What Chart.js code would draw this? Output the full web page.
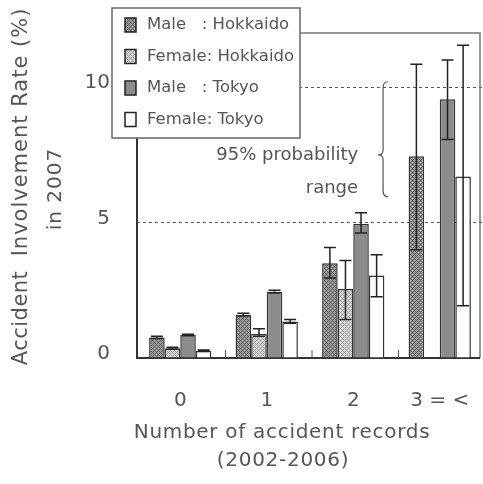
<!DOCTYPE html>
<html>
<head>
<meta charset="utf-8">
<script src="https://cdn.jsdelivr.net/npm/chart.js@4/dist/chart.umd.min.js"></script>
<style>
  html, body { margin: 0; padding: 0; background: #fff; }
  canvas { display: block; }
</style>
</head>
<body>
<canvas id="chart" width="483" height="484"></canvas>
<script>
// categories / series
const categories = ['0', '1', '2', '3 = <'];
const seriesLabels = ['Male   : Hokkaido', 'Female: Hokkaido', 'Male   : Tokyo', 'Female: Tokyo'];
const yTicks = [0, 5, 10];

// rates (%)
const maleHokkaido   = [0.76, 1.60, 3.50, 7.45];
const femaleHokkaido = [0.36, 0.90, 2.55, null];
const maleTokyo      = [0.85, 2.45, 4.95, 9.55];
const femaleTokyo    = [0.27, 1.35, 3.05, 6.70];

// 95% probability range (lower / upper)
const maleHokkaidoLow   = [0.72, 1.55, 2.95, 4.00];
const maleHokkaidoHigh  = [0.80, 1.65, 4.08, 10.85];
const femaleHokkaidoLow  = [0.32, 0.80, 1.42, null];
const femaleHokkaidoHigh = [0.40, 1.08, 3.60, null];
const maleTokyoLow   = [0.82, 2.40, 4.62, 8.07];
const maleTokyoHigh  = [0.88, 2.50, 5.36, 11.00];
const femaleTokyoLow  = [0.24, 1.28, 2.26, 1.93];
const femaleTokyoHigh = [0.30, 1.42, 3.81, 11.55];

const FONT = 'DejaVu Sans';
const TEXT = '#555';

// small hatch patterns like the original print
function hatch(base, line) {
    const c = document.createElement('canvas');
    c.width = 4; c.height = 4;
    const g = c.getContext('2d');
    g.fillStyle = base;
    g.fillRect(0, 0, 4, 4);
    g.fillStyle = line;
    for (let x = 0; x < 4; x++) {
        for (let y = 0; y < 4; y++) {
            if ((x + y) % 4 === 0 || (x - y + 4) % 4 === 0) g.fillRect(x, y, 1, 1);
        }
    }
    return g.createPattern(c, 'repeat');
}

const errorBars = {
    id: 'errorBars',
    afterDatasetsDraw(chart) {
        const ctx = chart.ctx;
        const y = chart.scales.y;
        ctx.save();
        ctx.strokeStyle = '#222';
        ctx.lineWidth = 1.5;
        chart.data.datasets.forEach((ds, di) => {
            const meta = chart.getDatasetMeta(di);
            meta.data.forEach((bar, i) => {
                if (ds.low[i] == null) return;
                const yl = y.getPixelForValue(ds.low[i]);
                const yh = y.getPixelForValue(ds.high[i]);
                const x = bar.x;
                ctx.beginPath();
                ctx.moveTo(x, yl); ctx.lineTo(x, yh);
                ctx.moveTo(x - 6, yl); ctx.lineTo(x + 6, yl);
                ctx.moveTo(x - 6, yh); ctx.lineTo(x + 6, yh);
                ctx.stroke();
            });
        });
        ctx.restore();
    }
};

const frame = {
    id: 'frame',
    beforeDatasetsDraw(chart) {
        const { ctx, chartArea: a, scales } = chart;
        const right = a.right - 3; // the printed frame stops a little short of the last slot
        ctx.save();
        ctx.strokeStyle = '#777';
        ctx.lineWidth = 1.5;
        ctx.beginPath();
        ctx.moveTo(a.left, a.top); ctx.lineTo(right, a.top); ctx.lineTo(right, a.bottom);
        ctx.stroke();
        ctx.strokeStyle = '#333';
        ctx.lineWidth = 2;
        ctx.beginPath();
        ctx.moveTo(a.left, a.top); ctx.lineTo(a.left, a.bottom); ctx.lineTo(right, a.bottom);
        ctx.stroke();
        // little inner ticks between categories
        ctx.lineWidth = 1;
        ctx.strokeStyle = '#555';
        ctx.beginPath();
        for (let i = 0; i < categories.length - 1; i++) {
            const xb = (scales.x.getPixelForValue(i) + scales.x.getPixelForValue(i + 1)) / 2 + 2;
            ctx.moveTo(xb, a.bottom); ctx.lineTo(xb, a.bottom - 8);
        }
        ctx.stroke();
        ctx.restore();
    }
};

const decorations = {
    id: 'decorations',
    afterDraw(chart) {
        const { ctx, scales } = chart;
        ctx.save();
        ctx.fillStyle = TEXT;
        ctx.textBaseline = 'middle';

        // axis titles
        ctx.font = '20px "' + FONT + '"';
        ctx.textAlign = 'center';
        ctx.letterSpacing = '0.7px';
        ctx.fillText('Number of accident records', 282, 433);
        ctx.fillText('(2002-2006)', 283, 461);
        ctx.save();
        ctx.translate(22, 0);
        ctx.rotate(-Math.PI / 2);
        ctx.font = '21px "' + FONT + '"';
        ctx.letterSpacing = '0.5px';
        ctx.fillText('Accident', -318, 0);
        ctx.letterSpacing = '1px';
        ctx.fillText('Involvement Rate (%)', -132, 0);
        ctx.restore();
        ctx.save();
        ctx.translate(56, 189);
        ctx.rotate(-Math.PI / 2);
        ctx.letterSpacing = '1px';
        ctx.fillText('in 2007', 0, 0);
        ctx.restore();
        ctx.letterSpacing = '0px';

        // brace + note
        const step = scales.x.getPixelForValue(3) - scales.x.getPixelForValue(2);
        const bx = scales.x.getPixelForValue(2) + step * 0.345;
        const yt = scales.y.getPixelForValue(10.2);
        const ym = scales.y.getPixelForValue(7.5);
        const yb = scales.y.getPixelForValue(5.95);
        ctx.strokeStyle = '#555';
        ctx.lineWidth = 1.2;
        ctx.beginPath();
        ctx.moveTo(bx + 5, yt);
        ctx.quadraticCurveTo(bx, yt, bx, yt + 6);
        ctx.lineTo(bx, ym - 5);
        ctx.quadraticCurveTo(bx, ym, bx - 5, ym);
        ctx.quadraticCurveTo(bx, ym, bx, ym + 5);
        ctx.lineTo(bx, yb - 6);
        ctx.quadraticCurveTo(bx, yb, bx + 5, yb);
        ctx.stroke();
        ctx.font = '18px "' + FONT + '"';
        ctx.textAlign = 'right';
        ctx.fillText('95% probability', bx - 25, ym);
        ctx.fillText('range', bx - 25, ym + 33);

        // legend box
        const lx = 112, ly = 8, lw = 188, lh = 130;
        ctx.fillStyle = '#fff';
        ctx.fillRect(lx, ly, lw, lh);
        ctx.strokeStyle = '#666';
        ctx.lineWidth = 1.5;
        ctx.strokeRect(lx, ly, lw, lh);
        ctx.font = '16.5px "' + FONT + '"';
        ctx.textAlign = 'left';
        chart.data.datasets.forEach((ds, i) => {
            const cy = ly + 17 + i * 31.5;
            ctx.fillStyle = ds.backgroundColor;
            ctx.fillRect(lx + 13, cy - 7, 11, 14);
            ctx.strokeStyle = '#222';
            ctx.lineWidth = 1.5;
            ctx.strokeRect(lx + 13, cy - 7, 11, 14);
            ctx.fillStyle = TEXT;
            ctx.fillText(ds.label, lx + 35, cy);
        });
        ctx.restore();
    }
};

const dsStyle = { borderColor: '#333', borderWidth: 1.5 };
const ctx = document.getElementById('chart').getContext('2d');
new Chart(ctx, {
    type: 'bar',
    data: {
        labels: categories,
        datasets: [
            { label: seriesLabels[0], data: maleHokkaido, low: maleHokkaidoLow, high: maleHokkaidoHigh, backgroundColor: hatch('#9c9c9c', '#5e5e5e'), ...dsStyle },
            { label: seriesLabels[1], data: femaleHokkaido, low: femaleHokkaidoLow, high: femaleHokkaidoHigh, backgroundColor: hatch('#d4d4d4', '#a6a6a6'), ...dsStyle },
            { label: seriesLabels[2], data: maleTokyo, low: maleTokyoLow, high: maleTokyoHigh, backgroundColor: '#8c8c8c', ...dsStyle },
            { label: seriesLabels[3], data: femaleTokyo, low: femaleTokyoLow, high: femaleTokyoHigh, backgroundColor: '#ffffff', ...dsStyle }
        ]
    },
    options: {
        responsive: false,
        animation: false,
        categoryPercentage: 0.72,
        barPercentage: 1.0,
        layout: { padding: { top: 33, right: 0, left: 0, bottom: 0 } },
        plugins: { legend: { display: false }, tooltip: { enabled: false } },
        scales: {
            x: {
                afterFit: s => { s.height = 126; s.paddingLeft = 0; s.paddingRight = 0; },
                ticks: { color: TEXT, padding: 23, font: { family: FONT, size: 20 } },
                grid: { display: false },
                border: { display: false }
            },
            y: {
                min: 0,
                max: 12,
                afterFit: s => { s.width = 137; s.paddingTop = 0; s.paddingBottom = 0; },
                afterBuildTicks: s => { s.ticks = yTicks.map(v => ({ value: v })); },
                ticks: { color: TEXT, padding: 27, labelOffset: -4, font: { family: FONT, size: 20 } },
                grid: {
                    drawTicks: false,
                    color: c => (c.tick && c.tick.value === 0) ? 'rgba(0,0,0,0)' : '#555',
                    lineWidth: 1
                },
                border: { display: false, dash: [3, 3] }
            }
        }
    },
    plugins: [frame, errorBars, decorations]
});
</script>
</body>
</html>
